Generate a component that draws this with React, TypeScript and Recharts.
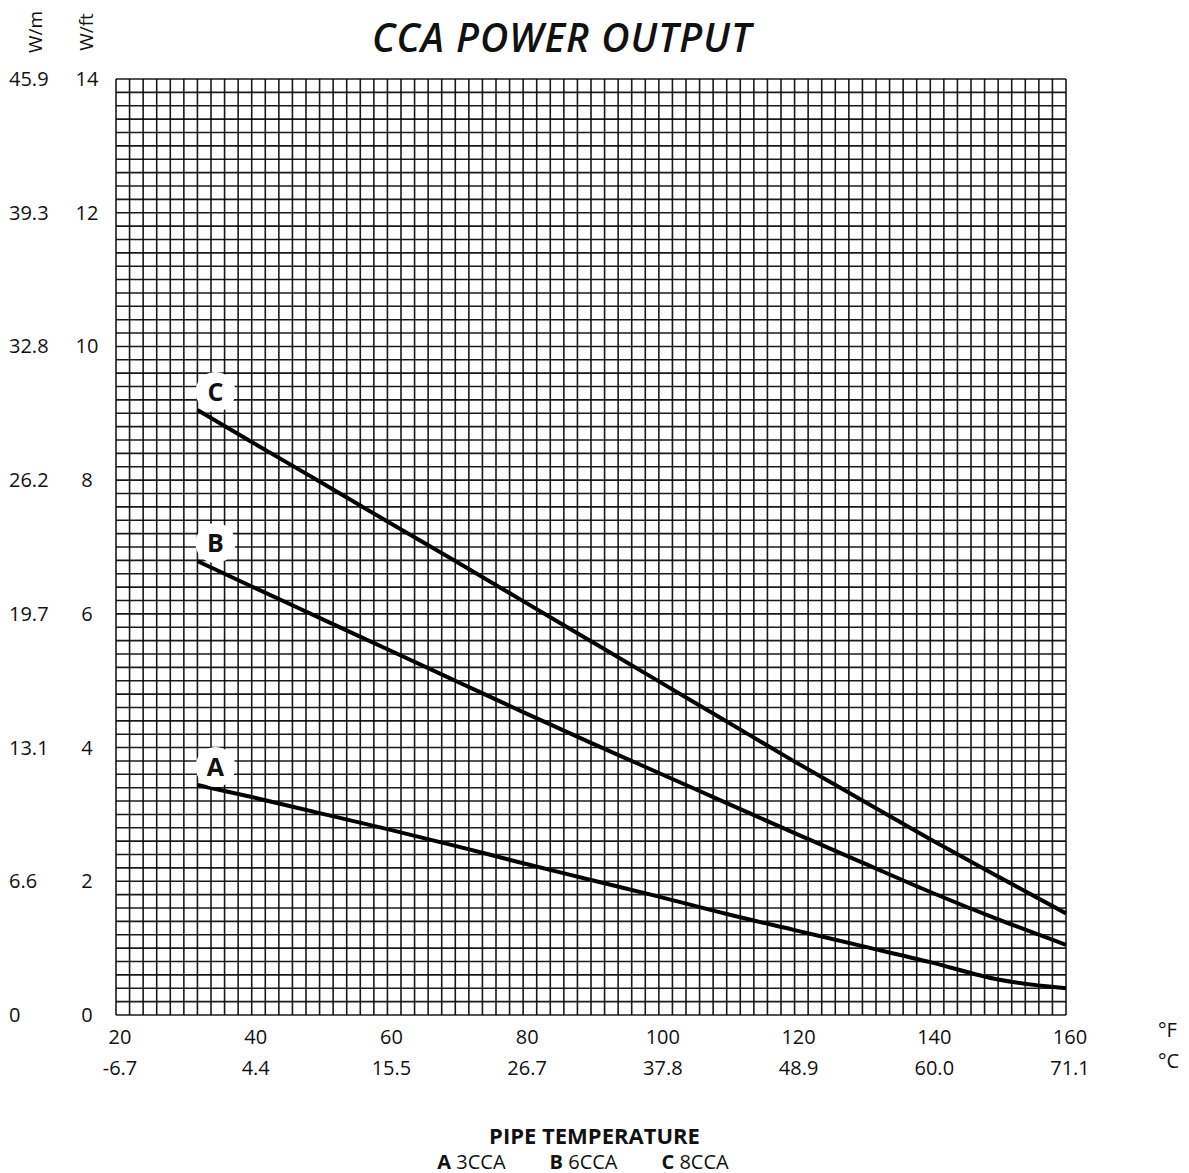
import { CartesianGrid, Line, LineChart, XAxis, YAxis } from 'recharts'

// pipe temperature, °F
const TEMP_F = [32, 40, 50, 60, 70, 80, 90, 100, 110, 120, 130, 140, 150, 160]
// power output, W/ft
const CCA3 = [3.44, 3.26, 3.02, 2.78, 2.53, 2.27, 2.02, 1.77, 1.51, 1.27, 1.03, 0.79, 0.53, 0.4]
const CCA6 = [6.79, 6.41, 5.94, 5.47, 5.0, 4.53, 4.07, 3.62, 3.17, 2.72, 2.28, 1.84, 1.43, 1.05]
const CCA8 = [9.05, 8.57, 7.98, 7.38, 6.79, 6.19, 5.59, 4.99, 4.39, 3.79, 3.21, 2.63, 2.07, 1.52]

const F_TICKS = [20, 40, 60, 80, 100, 120, 140, 160]
const C_LABELS = ['-6.7', '4.4', '15.5', '26.7', '37.8', '48.9', '60.0', '71.1']
const WFT_TICKS = [0, 2, 4, 6, 8, 10, 12, 14]
const WM_LABELS = ['0', '6.6', '13.1', '19.7', '26.2', '32.8', '39.3', '45.9']

// fine graph-paper grid: 2 °F by 0.2 W/ft
const GRID_X: number[] = []
for (let t = 20; t <= 160; t += 2) GRID_X.push(t)
const GRID_Y: number[] = []
for (let i = 0; i <= 70; i++) GRID_Y.push(Math.round(i * 2) / 10)

const data = TEMP_F.map((t, i) => ({ t, a: CCA3[i], b: CCA6[i], c: CCA8[i] }))

const FONT = '"Open Sans", "DejaVu Sans", sans-serif'

function XTick(props: any) {
  const { x, y, index } = props
  return (
    <g fontFamily={FONT} fontSize={20} fill="#111">
      <text x={x + 4} y={y + 21} textAnchor="middle">{F_TICKS[index]}</text>
      <text x={x + 4} y={y + 52} textAnchor="middle">{C_LABELS[index]}</text>
    </g>
  )
}

function YTick(props: any) {
  const { y, index } = props
  return (
    <g fontFamily={FONT} fontSize={20} fill="#111">
      <text x={9} y={y + 7} textAnchor="start">{WM_LABELS[index]}</text>
      <text x={87} y={y + 7} textAnchor="middle">{WFT_TICKS[index]}</text>
    </g>
  )
}

const badge = (letter: string) => (props: any) => {
  if (props.index !== 0) return <g />
  const cx = props.x + 18
  const cy = props.y - 18
  return (
    <g>
      <circle cx={cx} cy={cy} r={20} fill="#fff" stroke="none" />
      <text x={cx} y={cy + 9} textAnchor="middle" fontFamily={FONT} fontWeight={700} fontSize={25} fill="#111">
        {letter}
      </text>
    </g>
  )
}

export default function App() {
  return (
    <div style={{ position: 'absolute', left: 0, top: 0, width: 1189, height: 1173, background: '#fff', fontFamily: FONT, color: '#111' }}>
      <div style={{ position: 'absolute', left: 212, top: 10, width: 700, textAlign: 'center', fontSize: 39, fontStyle: 'italic', fontWeight: 600, letterSpacing: 1 }}>
        CCA POWER OUTPUT
      </div>
      <div style={{ position: 'absolute', left: 35, top: 32, fontSize: 19, transform: 'translate(-50%, -50%) rotate(-90deg)', whiteSpace: 'nowrap' }}>W/m</div>
      <div style={{ position: 'absolute', left: 86, top: 32, fontSize: 19, transform: 'translate(-50%, -50%) rotate(-90deg)', whiteSpace: 'nowrap' }}>W/ft</div>
      <div style={{ position: 'absolute', left: 1158, top: 1016, fontSize: 20 }}>°F</div>
      <div style={{ position: 'absolute', left: 1158, top: 1047, fontSize: 20 }}>°C</div>

      <LineChart width={1189} height={1173} data={data} margin={{ top: 79, right: 123, bottom: 157, left: 115 }}>
        <XAxis xAxisId="grid" dataKey="t" type="number" domain={[20, 160]} ticks={GRID_X} interval={0} hide />
        <YAxis yAxisId="grid" dataKey="c" type="number" domain={[0, 14]} ticks={GRID_Y} interval={0} hide />
        <CartesianGrid xAxisId="grid" horizontal={false} stroke="#000" strokeWidth={1.6} strokeOpacity={0.9} />
        <CartesianGrid yAxisId="grid" vertical={false} stroke="#000" strokeWidth={1.6} strokeOpacity={0.9} />
        <XAxis
          dataKey="t"
          type="number"
          domain={[20, 160]}
          ticks={F_TICKS}
          height={1}
          axisLine={false}
          tickLine={false}
          tick={XTick}
          interval={0}
        />
        <YAxis
          type="number"
          domain={[0, 14]}
          ticks={WFT_TICKS}
          width={1}
          axisLine={false}
          tickLine={false}
          tick={YTick}
          interval={0}
        />
        <Line dataKey="a" type="monotone" stroke="#000" strokeWidth={4} dot={false} isAnimationActive={false} label={badge('A')} />
        <Line dataKey="b" type="monotone" stroke="#000" strokeWidth={4} dot={false} isAnimationActive={false} label={badge('B')} />
        <Line dataKey="c" type="monotone" stroke="#000" strokeWidth={4} dot={false} isAnimationActive={false} label={badge('C')} />
      </LineChart>

      <div style={{ position: 'absolute', left: 0, top: 1120, width: 1189, textAlign: 'center', fontSize: 22, fontWeight: 700 }}>
        PIPE TEMPERATURE
      </div>
      <div style={{ position: 'absolute', left: 0, top: 1148, width: 1166, textAlign: 'center', fontSize: 20 }}>
        <b>A</b> 3CCA<span style={{ display: 'inline-block', width: 44 }} />
        <b>B</b> 6CCA<span style={{ display: 'inline-block', width: 44 }} />
        <b>C</b> 8CCA
      </div>
    </div>
  )
}
